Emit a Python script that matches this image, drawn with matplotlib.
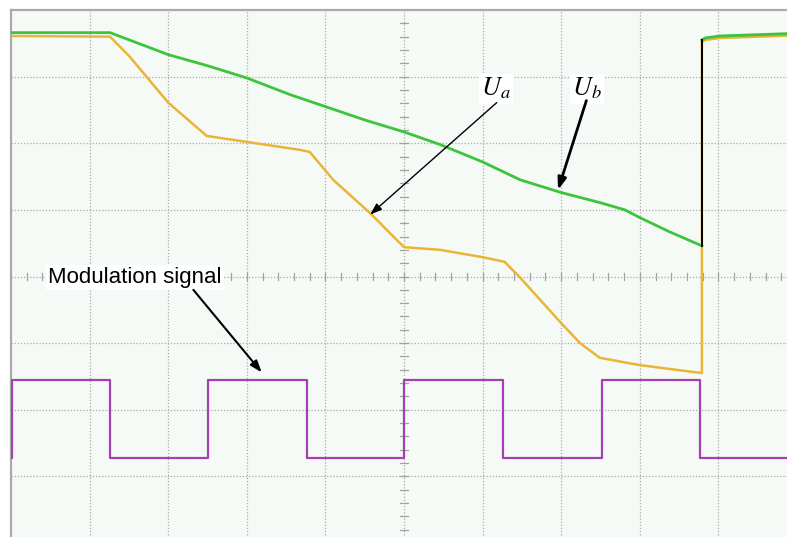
import numpy as np
import matplotlib
matplotlib.use("Agg")
import matplotlib.pyplot as plt

# ---- data (oscilloscope divisions: x 0..10, y 0..8) ----
ub_t = [0.00, 1.26, 2.00, 2.51, 3.00, 3.55, 4.00, 4.50, 5.00, 5.46, 6.00, 6.48,
        7.00, 7.49, 7.81, 7.99, 8.38, 8.79]
ub_v = [7.66, 7.66, 7.33, 7.16, 6.98, 6.73, 6.55, 6.35, 6.17, 5.98, 5.72, 5.45,
        5.26, 5.11, 5.00, 4.89, 4.67, 4.46]
ub_t2 = [8.79, 8.83, 9.02, 10.0]
ub_v2 = [7.55, 7.58, 7.61, 7.65]

ua_t = [0.00, 1.26, 1.51, 2.00, 2.49, 3.00, 3.68, 3.80, 4.10, 4.57, 5.00, 5.46,
        6.00, 6.28, 6.48, 7.00, 7.24, 7.49, 8.00, 8.79, 8.79]
ua_v = [7.61, 7.60, 7.30, 6.61, 6.11, 6.02, 5.90, 5.87, 5.45, 4.95, 4.44, 4.40,
        4.29, 4.22, 3.98, 3.30, 3.00, 2.78, 2.67, 2.55, 7.52]
ua_t2 = [8.79, 8.83, 9.02, 10.0]
ua_v2 = [7.52, 7.55, 7.58, 7.62]

mod_edges = [0.01, 1.26, 2.51, 3.77, 5.00, 6.26, 7.52, 8.77]
mod_high, mod_low = 2.45, 1.28

# ---- figure ----
W, H = 787, 537
fig = plt.figure(figsize=(W / 100, H / 100), dpi=100)
fig.patch.set_facecolor("white")
ax = fig.add_axes([11 / W, (H - 543) / H, 786 / W, 533 / H])
ax.set_facecolor("#f6faf6")
ax.set_xlim(0, 10)
ax.set_ylim(0, 8)
ax.set_xticks([])
ax.set_yticks([])
for s in ["left", "top"]:
    ax.spines[s].set_color("#a8aca8")
    ax.spines[s].set_linewidth(1.6)
for s in ["right", "bottom"]:
    ax.spines[s].set_visible(False)

# grid
for gx in range(1, 10):
    ax.axvline(gx, color="#a9aba9", lw=0.9, ls=(0, (1, 1.5)), zorder=1)
for gy in range(1, 8):
    ax.axhline(gy, color="#a9aba9", lw=0.9, ls=(0, (1, 1.5)), zorder=1)
# center minor ticks
for k in np.arange(0.2, 10, 0.2):
    ax.plot([k, k], [4 - 0.06, 4 + 0.06], color="#a0a4a0", lw=0.9, zorder=1)
for k in np.arange(0.2, 8, 0.2):
    ax.plot([5 - 0.045, 5 + 0.045], [k, k], color="#a0a4a0", lw=0.9, zorder=1)

# traces
mt = [0.0]
mv = [mod_low]
level = mod_low
for e in mod_edges:
    mt += [e, e]
    nxt = mod_high if level == mod_low else mod_low
    mv += [level, nxt]
    level = nxt
mt.append(10.0)
mv.append(level)
ax.plot(mt, mv, color="#a43fb4", lw=1.6, zorder=3)

ax.plot(ua_t, ua_v, color="#eab536", lw=1.8, zorder=3)
ax.plot(ua_t2, ua_v2, color="#eab536", lw=1.8, zorder=3)
ax.plot(ub_t, ub_v, color="#3cc43c", lw=2.0, zorder=4)
ax.plot([ub_t[-1], ub_t2[0]], [ub_v[-1], ub_v2[0]], color="black", lw=1.4, zorder=5)
ax.plot(ub_t2, ub_v2, color="#3cc43c", lw=2.0, zorder=4)

# annotations
plt.rcParams["mathtext.fontset"] = "stix"
box = dict(facecolor="white", edgecolor="none", pad=1.5)
ax.text(1.58, 3.99, "Modulation signal", fontsize=16, family="Liberation Sans",
        ha="center", va="center", bbox=box, zorder=6)
ax.annotate("", xy=(3.19, 2.56), xytext=(2.32, 3.80),
            arrowprops=dict(arrowstyle="-|>,head_length=0.7,head_width=0.25",
                            color="black", lw=1.5, shrinkA=0, shrinkB=0), zorder=6)

ax.text(6.17, 6.82, r"$U_a$", fontsize=19, ha="center", va="center", bbox=box, zorder=6)
ax.annotate("", xy=(4.57, 4.93), xytext=(6.18, 6.61),
            arrowprops=dict(arrowstyle="-|>,head_length=0.7,head_width=0.25",
                            color="black", lw=1.0, shrinkA=0, shrinkB=0), zorder=6)

ax.text(7.33, 6.82, r"$U_b$", fontsize=19, ha="center", va="center", bbox=box, zorder=6)
ax.annotate("", xy=(6.96, 5.30), xytext=(7.32, 6.64),
            arrowprops=dict(arrowstyle="-|>,head_length=0.7,head_width=0.25",
                            color="black", lw=2.0, shrinkA=0, shrinkB=0), zorder=6)

fig.savefig("out.png", dpi=100, facecolor="white")
